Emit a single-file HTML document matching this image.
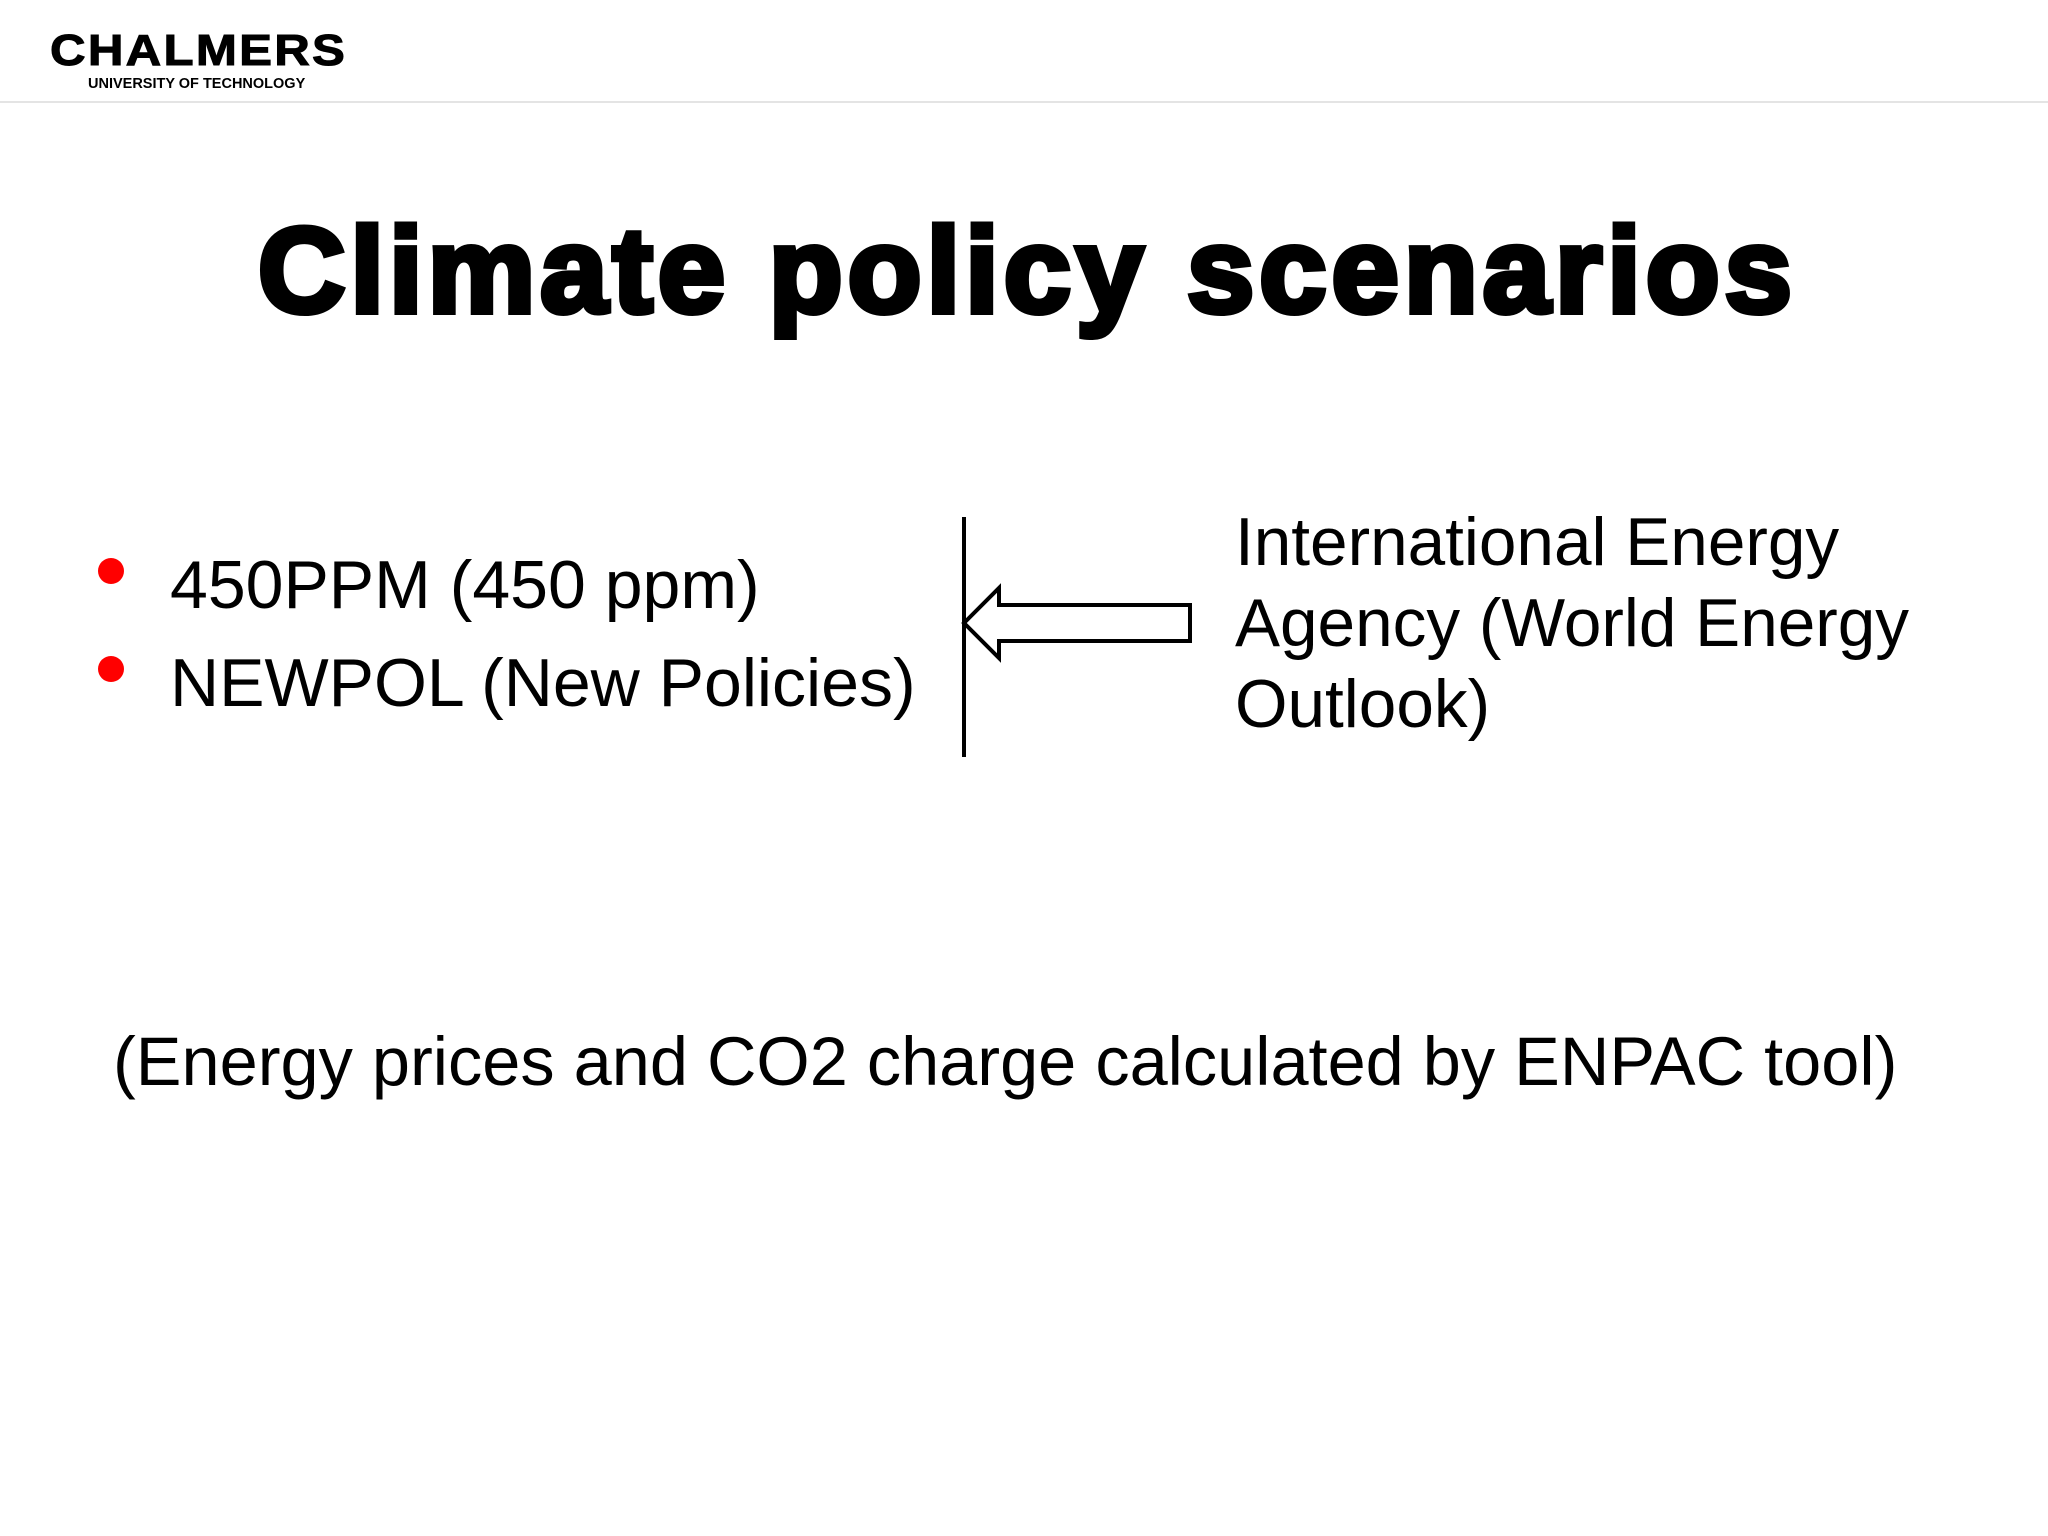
<!DOCTYPE html>
<html><head><meta charset="utf-8">
<style>
html,body{margin:0;padding:0;background:#fff;}
body{width:2048px;height:1536px;position:relative;overflow:hidden;font-family:"Liberation Sans",Arial,sans-serif;color:#000;}
.abs{position:absolute;white-space:nowrap;}
</style></head>
<body>
<div class="abs" style="left:50px;top:26px;font-size:44px;font-weight:bold;letter-spacing:2px;line-height:50px;transform:scaleX(1.12);transform-origin:0 0;-webkit-text-stroke:1px #000;">CHALMERS</div>
<div class="abs" style="left:88px;top:75px;font-size:14.5px;font-weight:bold;line-height:18px;">UNIVERSITY OF TECHNOLOGY</div>
<div class="abs" style="left:0;top:101px;width:2048px;height:2px;background:#e4e4e4;"></div>

<div class="abs" style="left:258px;top:200px;font-size:121px;font-weight:900;line-height:140px;letter-spacing:5px;-webkit-text-stroke:6px #000;">Climate policy scenarios</div>

<div class="abs" style="left:98px;top:558px;width:26px;height:26px;border-radius:50%;background:#f00;"></div>
<div class="abs" style="left:170px;top:545px;font-size:68px;line-height:80px;">450PPM (450 ppm)</div>
<div class="abs" style="left:98px;top:656px;width:26px;height:26px;border-radius:50%;background:#f00;"></div>
<div class="abs" style="left:170px;top:643px;font-size:68px;line-height:80px;">NEWPOL (New Policies)</div>

<svg class="abs" style="left:0;top:0;" width="2048" height="1536">
<line x1="964" y1="517" x2="964" y2="757" stroke="#000" stroke-width="4"/>
<polygon points="964,623 999,588 999,605 1190,605 1190,641 999,641 999,658" fill="#fff" stroke="#000" stroke-width="4" stroke-linejoin="miter"/>
</svg>

<div class="abs" style="left:1235px;top:502px;font-size:67.5px;line-height:81px;">International Energy<br>Agency (World Energy<br>Outlook)</div>

<div class="abs" style="left:113px;top:1021px;font-size:68.5px;line-height:82px;">(Energy prices and CO2 charge calculated by ENPAC tool)</div>
</body></html>
